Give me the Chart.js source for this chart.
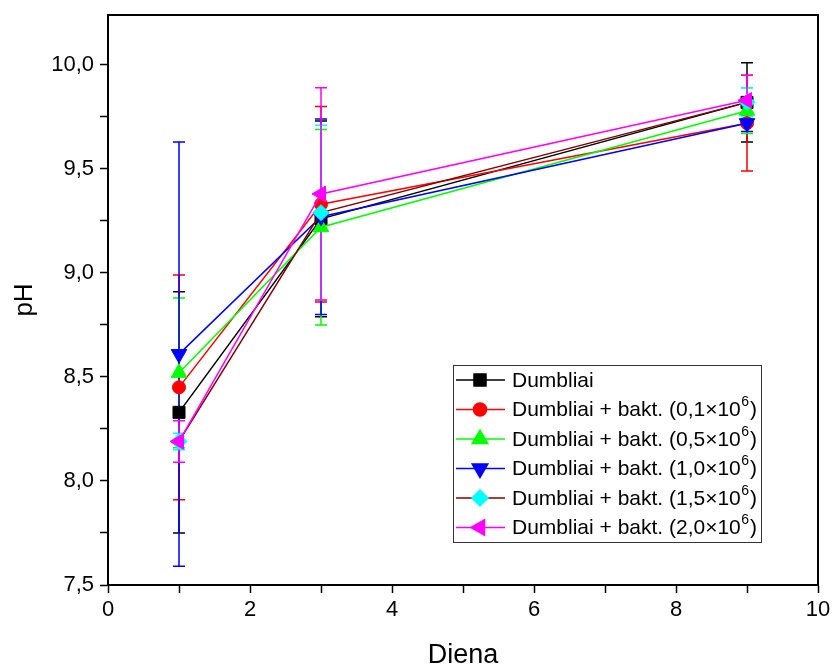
<!DOCTYPE html>
<html lang="lt">
<head>
<meta charset="utf-8">
<title>pH</title>
<script src="https://cdn.jsdelivr.net/npm/chart.js@4.4.0/dist/chart.umd.min.js"></script>
<style>
  html, body { margin: 0; padding: 0; background: #fff; }
  #wrap { width: 833px; height: 672px; }
</style>
</head>
<body>
<div id="wrap"><canvas id="phChart" width="833" height="672"></canvas></div>
<script>
// --- duomenys ---
const days = [1, 3, 9];
const concentrations = ['', '0,1', '0,5', '1,0', '1,5', '2,0'];

const phDumbliai = [8.33, 9.26, 9.82];
const ph01 = [8.45, 9.33, 9.72];
const ph05 = [8.52, 9.22, 9.78];
const ph10 = [8.61, 9.27, 9.72];
const ph15 = [8.19, 9.29, 9.82];
const ph20 = [8.19, 9.38, 9.83];

const errDumbliai = [0.58, 0.47, 0.19];
const err01 = [0.54, 0.47, 0.23];
const err05 = [0.36, 0.47, 0.11];
const err10 = [1.02, 0.47, 0.04];
const err15 = [0.04, 0.42, 0.07];
const err20 = [0.10, 0.51, 0.12];

const xTicks = [0, 2, 4, 6, 8, 10];
const yTicks = [7.5, 8.0, 8.5, 9.0, 9.5, 10.0];

const FONT = "'Liberation Sans', Arial, sans-serif";

// serijų stilius: linija, žymeklis, forma
const styles = [
    { line: '#000000', mark: '#000000', shape: 'rect', rot: 0, r: 8.5 },
    { line: '#ff0000', mark: '#ff0000', shape: 'circle', rot: 0, r: 6.5 },
    { line: '#00ff00', mark: '#00ff00', shape: 'triangle', rot: 0, r: 9 },
    { line: '#0000ff', mark: '#0000ff', shape: 'triangle', rot: 180, r: 9 },
    { line: '#800000', mark: '#00ffff', shape: 'rectRot', rot: 0, r: 8 },
    { line: '#ff00ff', mark: '#ff00ff', shape: 'triangle', rot: -90, r: 9 }
];
const values = [phDumbliai, ph01, ph05, ph10, ph15, ph20];
const errors = [errDumbliai, err01, err05, err10, err15, err20];

function seriesLabel(i) {
    return concentrations[i] ? 'Dumbliai + bakt. (' + concentrations[i] + '×10⁶)' : 'Dumbliai';
}

// vėlesnės serijos piešiamos viršuje
const datasets = values.map((vals, i) => ({
    label: seriesLabel(i),
    data: vals.map((v, j) => ({ x: days[j], y: v })),
    errors: errors[i],
    order: values.length - i,
    borderColor: styles[i].line,
    borderWidth: 1.5,
    pointStyle: styles[i].shape,
    pointRotation: styles[i].rot,
    pointRadius: styles[i].r,
    pointBackgroundColor: styles[i].mark,
    pointBorderColor: styles[i].mark,
    pointBorderWidth: 1,
    errColor: styles[i].mark,
    tension: 0,
    fill: false
}));

// --- paklaidų stulpeliai ---
const errorBars = {
    id: 'errorBars',
    beforeDatasetsDraw(chart) {
        const { ctx, scales: { x, y } } = chart;
        ctx.save();
        ctx.lineWidth = 1.5;
        chart.data.datasets.forEach(ds => {
            ctx.strokeStyle = ds.errColor;
            ds.data.forEach((p, j) => {
                const px = x.getPixelForValue(p.x);
                const top = y.getPixelForValue(p.y + ds.errors[j]);
                const bot = y.getPixelForValue(p.y - ds.errors[j]);
                ctx.beginPath();
                ctx.moveTo(px, top); ctx.lineTo(px, bot);
                ctx.moveTo(px - 6, top); ctx.lineTo(px + 6, top);
                ctx.moveTo(px - 6, bot); ctx.lineTo(px + 6, bot);
                ctx.stroke();
            });
        });
        ctx.restore();
    }
};

// --- rėmelis ir legenda ---
const frameAndLegend = {
    id: 'frameAndLegend',
    afterDraw(chart) {
        const { ctx, chartArea: a } = chart;
        ctx.save();
        ctx.strokeStyle = '#000';
        ctx.lineWidth = 2;
        ctx.beginPath();
        ctx.moveTo(a.left, a.top); ctx.lineTo(a.right, a.top); ctx.lineTo(a.right, a.bottom);
        ctx.stroke();

        // legenda
        const bx = 453, by = 365, bw = 308, bh = 177;
        ctx.fillStyle = '#fff';
        ctx.fillRect(bx, by, bw, bh);
        ctx.strokeStyle = '#333';
        ctx.lineWidth = 1;
        ctx.strokeRect(bx + 0.5, by + 0.5, bw, bh);

        chart.data.datasets.forEach((ds, i) => {
            const cy = 380 + i * 29.5;
            ctx.strokeStyle = ds.borderColor;
            ctx.lineWidth = 1.5;
            ctx.beginPath();
            ctx.moveTo(456, cy); ctx.lineTo(505, cy);
            ctx.stroke();
            ctx.fillStyle = ds.pointBackgroundColor;
            ctx.strokeStyle = ds.pointBorderColor;
            Chart.helpers.drawPoint(ctx, {
                pointStyle: ds.pointStyle, rotation: ds.pointRotation,
                radius: ds.pointRadius, borderWidth: 1
            }, 480, cy);

            ctx.fillStyle = '#000';
            ctx.textBaseline = 'middle';
            ctx.textAlign = 'left';
            ctx.font = '21px ' + FONT;
            if (!concentrations[i]) {
                ctx.fillText('Dumbliai', 512, cy + 1);
                return;
            }
            let tx = 512;
            const base = 'Dumbliai + bakt. (' + concentrations[i] + '×10';
            ctx.fillText(base, tx, cy + 1);
            tx += ctx.measureText(base).width;
            ctx.font = '14px ' + FONT;
            ctx.fillText('6', tx + 0.5, cy - 7);
            tx += ctx.measureText('6').width + 1.5;
            ctx.font = '21px ' + FONT;
            ctx.fillText(')', tx, cy + 1);
        });
        ctx.restore();
    }
};

new Chart(document.getElementById('phChart'), {
    type: 'line',
    data: { datasets },
    plugins: [errorBars, frameAndLegend],
    options: {
        responsive: false,
        animation: false,
        layout: { padding: { left: 0, right: 15, top: 15, bottom: 0 } },
        plugins: { legend: { display: false }, tooltip: { enabled: false } },
        scales: {
            x: {
                type: 'linear',
                min: 0, max: 10,
                afterFit(scale) { scale.height = 87; scale.paddingLeft = 0; scale.paddingRight = 0; },
                border: { display: true, color: '#000', width: 2 },
                grid: { drawOnChartArea: false, drawTicks: true, tickLength: 8, color: '#000', tickWidth: 1.5 },
                ticks: {
                    stepSize: 1, autoSkip: false, maxRotation: 0, padding: 4, color: '#000',
                    font: { family: FONT, size: 22 },
                    callback: v => xTicks.includes(v) ? String(v) : ''
                },
                title: { display: true, text: 'Diena', color: '#000', font: { family: FONT, size: 27 }, padding: { top: 0, bottom: 0 } }
            },
            y: {
                type: 'linear',
                min: 7.5, max: 10.24,
                afterFit(scale) { scale.width = 108; scale.paddingTop = 0; scale.paddingBottom = 0; },
                border: { display: true, color: '#000', width: 2 },
                grid: { drawOnChartArea: false, drawTicks: true, tickLength: 8, color: '#000', tickWidth: 1.5 },
                ticks: {
                    stepSize: 0.25, includeBounds: false, autoSkip: false, padding: 6, color: '#000',
                    font: { family: FONT, size: 22 },
                    callback: v => yTicks.some(t => Math.abs(t - v) < 1e-6) ? v.toFixed(1).replace('.', ',') : ''
                },
                title: { display: true, text: 'pH', color: '#000', font: { family: FONT, size: 26 }, padding: { top: 9, bottom: 0 } }
            }
        }
    }
});
</script>
</body>
</html>
